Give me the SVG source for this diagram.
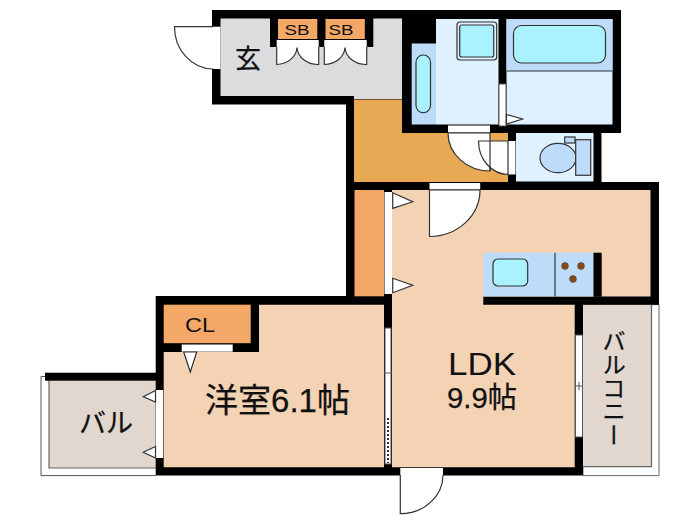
<svg xmlns="http://www.w3.org/2000/svg" width="700" height="525" viewBox="0 0 700 525">
<style>
.l{stroke:#333;stroke-width:1.2}
.door{fill:#fff;stroke:#333;stroke-width:1.2}
.gap{fill:#fff;stroke:none}
.sash{fill:#fff;stroke:#555;stroke-width:1}
.w{fill:#000}
.pale{fill:#dff0ff}
.blue{fill:#bcdcfa}
.cyan{fill:#aaf2ff;stroke:#333;stroke-width:1.2}
.room{fill:#f4d2b4}
.bal{fill:#e2d7cf}
.clo{fill:#f4a868}
.t{font-family:"Liberation Sans","Noto Sans CJK JP",sans-serif;fill:#111;text-anchor:middle}
.j{font-family:"Noto Sans CJK JP","Liberation Sans",sans-serif;fill:#111;text-anchor:middle;stroke:#111;stroke-width:.25}
</style>
<rect width="700" height="525" fill="#fff"/>
<g id="balcony-west">
<path d="M155.7 376.5H41V475.6H155.7" fill="#fff" stroke="#555" stroke-width="1"/>
<rect class="bal" x="49" y="380" width="107" height="88"/>
<path d="M49 380V468H155.7" fill="none" stroke="#666" stroke-width="1.2"/>
<rect class="w" x="45" y="372.7" width="111" height="8"/>
<text class="j" x="106" y="433" font-size="27">バル</text>
</g>
<g id="balcony-east">
<path d="M583 304.7H659V475.6H583Z" fill="#fff" stroke="#666" stroke-width="1"/>
<rect class="bal" x="583" y="304.7" width="68.5" height="162"/>
<path d="M651.5 304.7V466.7H583" fill="none" stroke="#666" stroke-width="1.2"/>
<text class="j" x="614" y="329" font-size="23.5" writing-mode="vertical-rl" style="text-anchor:start">バルコニー</text>
</g>
<path id="walls" class="w" d="M212 10H621V133H601.5V182H659V304.7H583V475.6H155.7V296H346V104.5H212Z"/>
<g id="genkan">
<path d="M220.5 18.5H402V99H354V96H220.5Z" fill="#dcdcde"/>
<rect class="gap" x="213" y="26.7" width="7.5" height="42.3" stroke="#333"/>
<path class="door" d="M213 26.7H174.5A39 42 0 0 0 213 69"/>
<text class="j" x="248" y="68" font-size="26">玄</text>
</g>
<g id="sb-closets">
<rect class="w" x="270" y="18" width="103.3" height="29"/>
<rect class="clo" x="278" y="19" width="39.3" height="20"/>
<rect class="clo" x="325.5" y="19" width="39.3" height="20"/>
<rect class="gap" x="276.7" y="40" width="42" height="7"/>
<rect class="gap" x="324.3" y="40" width="42.4" height="7"/>
<path class="door" d="M276.7 47V64.5A21 18 0 0 0 297 47.5A21 18 0 0 0 318.7 64.5V47"/>
<path class="door" d="M324.3 47V64.5A21 18 0 0 0 345 47.5A21 18 0 0 0 366.7 64.5V47"/>
<text class="t" x="297" y="35" font-size="15.5" textLength="25" lengthAdjust="spacingAndGlyphs">SB</text>
<text class="t" x="341" y="35" font-size="15.5" textLength="25" lengthAdjust="spacingAndGlyphs">SB</text>
</g>
<g id="hall">
<path d="M354 99.5H402V133H508V182H354Z" fill="#e8a955"/>
</g>
<g id="washroom">
<rect class="blue" x="411.7" y="43.5" width="24.3" height="81"/>
<rect class="cyan" x="416" y="55" width="14.5" height="57.7" rx="7.2"/>
<rect class="pale" x="436" y="19" width="62.5" height="105.5"/>
<rect x="457" y="22" width="39.7" height="38" rx="3" fill="none" stroke="#333" stroke-width="1.2"/>
<rect class="cyan" x="459.7" y="25" width="34" height="32" rx="2"/>
<rect class="gap" x="448" y="125.5" width="42" height="7"/>
<path class="door" d="M490 133H448A42 38 0 0 0 490 171Z"/>
</g>
<g id="bath">
<rect class="pale" x="506.5" y="19" width="106" height="105.5"/>
<rect class="blue" x="506.5" y="19" width="106" height="52"/>
<path class="l" d="M506.5 71H612.5" fill="none"/>
<rect class="cyan" x="513.5" y="25.5" width="92" height="37.5" rx="8"/>
<rect class="sash" x="499" y="84" width="7" height="42"/>
<path class="door" d="M506.5 114.5L522.5 119L506.5 124Z"/>
</g>
<g id="toilet">
<rect class="pale" x="516" y="133" width="77.5" height="48.5"/>
<rect class="gap" x="508" y="141" width="7.5" height="33.5" stroke="#333"/>
<path class="door" d="M508 141H478.5A30 33.5 0 0 0 508 174.5Z"/>
<path class="l" d="M490 141V171" fill="none"/>
<rect class="blue l" x="564.7" y="137" width="10.3" height="6"/>
<ellipse class="blue l" cx="558" cy="158" rx="18" ry="14.7"/>
<rect class="blue l" x="575.7" y="139.7" width="15" height="35.6"/>
</g>
<g id="closet">
<rect class="clo" x="354.5" y="190" width="29.5" height="106.3"/>
<rect class="gap" x="384.5" y="192" width="7.5" height="102"/>
</g>
<g id="ldk">
<path class="room" d="M392 190H650.5V296.5H483.3V304.7H574.7V467.3H392Z"/>
<path class="door" d="M392.7 192.7L412.7 201.7L392.7 208.3Z"/>
<path class="door" d="M392.7 278.3L412.7 285.3L392.7 292.7Z"/>
<rect class="gap" x="429.5" y="183" width="50.7" height="6.5"/>
<path class="door" d="M429.5 190H480A50.5 46.5 0 0 1 429.5 236.5Z"/>
<text class="t" x="482" y="375" font-size="31" textLength="68" lengthAdjust="spacingAndGlyphs">LDK</text>
<text class="j" x="482" y="408" font-size="29" textLength="70" lengthAdjust="spacingAndGlyphs"><tspan font-family="Liberation Sans">9.9</tspan>帖</text>
<rect class="sash" x="575.5" y="335" width="7" height="102"/>
<path d="M575 386H583M579 382V390" stroke="#555" stroke-width="1"/>
<rect class="gap" x="400.3" y="468" width="42.7" height="7"/>
<path class="door" d="M400.3 475V513.7A42.7 38.7 0 0 0 443 475"/>
</g>
<g id="kitchen">
<rect class="blue" x="483.3" y="252.7" width="110.2" height="43.8"/>
<path class="l" d="M555 252.7V296.5" fill="none"/>
<rect class="cyan" x="493" y="259" width="34.7" height="27" rx="5"/>
<rect class="w" x="593.5" y="252.7" width="8.2" height="44"/>
<g fill="#8a4a10" stroke="#444" stroke-width=".6">
<circle cx="565" cy="266" r="3.4"/>
<circle cx="581" cy="266" r="3.4"/>
<circle cx="573" cy="279" r="3.4"/>
</g>
</g>
<g id="western-room">
<path class="room" d="M163.7 352H259V304.7H384V467.3H163.7Z"/>
<rect class="sash" x="385" y="328" width="6" height="136"/>
<path d="M384 373H392" stroke="#555" stroke-width="1"/>
<path d="M388 418V463" stroke="#333" stroke-width="2" stroke-dasharray="2 2"/>
<rect class="gap" x="156" y="390" width="7.2" height="68" stroke="#333"/>
<path class="door" d="M155.5 390.5L143.3 396.7L155.5 402Z"/>
<path class="door" d="M155.5 446.5L143.3 452.3L155.5 458Z"/>
<text class="j" x="277.5" y="412" font-size="33"><tspan>洋室</tspan><tspan font-family="Liberation Sans">6.1</tspan><tspan>帖</tspan></text>
</g>
<g id="cl-closet">
<rect class="clo" x="163.7" y="304.7" width="87" height="38.5"/>
<rect class="gap" x="181.7" y="344.5" width="51" height="7.2"/>
<path class="door" d="M183.7 352L190.3 372L196.7 352Z"/>
<text class="t" x="200" y="332" font-size="20.5" textLength="30" lengthAdjust="spacingAndGlyphs">CL</text>
</g>
</svg>
